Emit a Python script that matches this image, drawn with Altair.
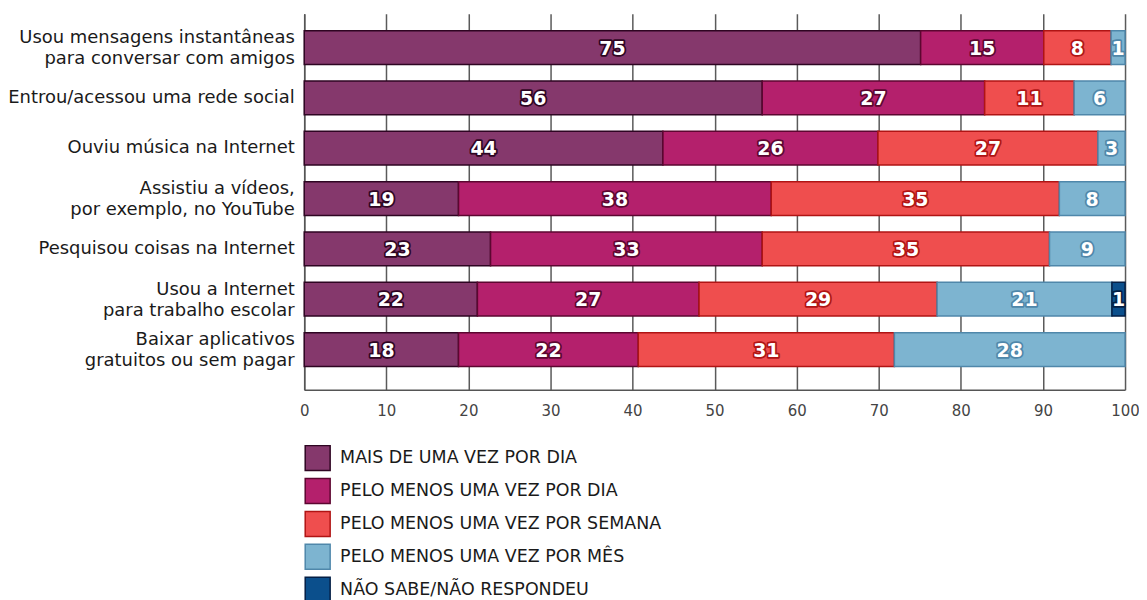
import altair as alt
import pandas as pd

# ---- data ----
items = [
    "Usou mensagens instantâneas|para conversar com amigos",
    "Entrou/acessou uma rede social",
    "Ouviu música na Internet",
    "Assistiu a vídeos,|por exemplo, no YouTube",
    "Pesquisou coisas na Internet",
    "Usou a Internet|para trabalho escolar",
    "Baixar aplicativos|gratuitos ou sem pagar",
]
categories = [
    "MAIS DE UMA VEZ POR DIA",
    "PELO MENOS UMA VEZ POR DIA",
    "PELO MENOS UMA VEZ POR SEMANA",
    "PELO MENOS UMA VEZ POR MÊS",
    "NÃO SABE/NÃO RESPONDEU",
]

# bar lengths (as drawn)
mais_dia = [75.1, 55.8, 43.7, 18.8, 22.7, 21.1, 18.8]
pelo_dia = [15.0, 27.1, 26.2, 38.1, 33.1, 27.0, 21.9]
semana = [8.2, 10.9, 26.8, 35.1, 35.0, 29.0, 31.2]
mes = [1.7, 6.2, 3.3, 8.0, 9.2, 21.3, 28.1]
nao_sabe = [0, 0, 0, 0, 0, 1.6, 0]

# printed labels
lab_mais_dia = [75, 56, 44, 19, 23, 22, 18]
lab_pelo_dia = [15, 27, 26, 38, 33, 27, 22]
lab_semana = [8, 11, 27, 35, 35, 29, 31]
lab_mes = [1, 6, 3, 8, 9, 21, 28]
lab_nao_sabe = [0, 0, 0, 0, 0, 1, 0]

colors = ["#85386C", "#B4206C", "#EF4E4E", "#7DB4D0", "#0B4F8C"]
darks = ["#2E0522", "#5C0630", "#B01414", "#4F87AA", "#041F45"]

series = [mais_dia, pelo_dia, semana, mes, nao_sabe]
labels = [lab_mais_dia, lab_pelo_dia, lab_semana, lab_mes, lab_nao_sabe]

rows = []
for ci, cat in enumerate(categories):
    for ii, item in enumerate(items):
        v = series[ci][ii]
        if v > 0:
            rows.append({"item": item, "cat": cat, "order": ci,
                         "value": v, "label": str(labels[ci][ii])})
df = pd.DataFrame(rows)

base = (
    alt.Chart(df)
    .transform_stack(stack="value", groupby=["item"], as_=["x0", "x1"],
                     sort=[alt.SortField("order", order="ascending")])
    .transform_calculate(mid="(datum.x0 + datum.x1) / 2")
)

y_enc = alt.Y(
    "item:N", sort=items, title=None,
    scale=alt.Scale(paddingInner=0.33, paddingOuter=0.4, align=0.42),
    axis=alt.Axis(labelExpr="split(datum.label, '|')", labelFont="DejaVu Sans",
                  labelFontSize=18, labelColor="#1a1a1a", labelPadding=10,
                  labelLineHeight=21, labelLimit=400, ticks=False, grid=False,
                  labelOffset={"condition": {"test": "indexof(datum.value, '|') >= 0",
                                             "value": -9.5}, "value": 0},
                  domain=True, domainColor="#555555", domainWidth=1.5),
)

x_scale = alt.Scale(domain=[0, 100], nice=False)

color_enc = alt.Color(
    "cat:N", scale=alt.Scale(domain=categories, range=colors),
    legend=alt.Legend(
        title=None, orient="none", legendX=0, legendY=432, direction="vertical",
        symbolType="square", symbolSize=625, symbolStrokeWidth=1.5,
        symbolStrokeColor="#3a1228", symbolOpacity=1,
        labelFont="DejaVu Sans", labelFontSize=17.5,
        labelColor="#1a1a1a", labelOffset=9, rowPadding=2, padding=0,
        labelLimit=600,
    ),
)
stroke_enc = alt.Stroke("cat:N", scale=alt.Scale(domain=categories, range=darks), legend=None)

bars = base.mark_bar(strokeWidth=1.5, opacity=1).encode(
    y=y_enc,
    x=alt.X("x0:Q", scale=x_scale, title=None,
            axis=alt.Axis(values=list(range(0, 101, 10)), grid=True,
                          gridColor="#5a5a5a", gridWidth=1.5, ticks=False,
                          domainColor="#555555", domainWidth=1.5,
                          labelFont="DejaVu Sans", labelFontSize=15,
                          labelColor="#444444", labelPadding=14,
                          labelFlush=False, labelOverlap=False)),
    x2="x1:Q",
    color=color_enc,
    stroke=stroke_enc,
)

outline = base.mark_text(font="DejaVu Sans", fontSize=19, fontWeight="bold",
                         fill="white", strokeWidth=3.5, strokeJoin="round",
                         dy=1).encode(
    y=alt.Y("item:N", sort=items),
    x=alt.X("mid:Q", scale=x_scale),
    text="label:N",
    stroke=stroke_enc,
)

labels_txt = base.mark_text(font="DejaVu Sans", fontSize=19, fontWeight="bold",
                            fill="white", dy=1).encode(
    y=alt.Y("item:N", sort=items),
    x=alt.X("mid:Q", scale=x_scale),
    text="label:N",
)

chart = (
    alt.layer(bars, outline, labels_txt)
    .properties(width=823, height=377,
                autosize=alt.AutoSizeParams(type="none"),
                padding={"left": 297, "top": 5, "right": 14, "bottom": 210})
    .configure_view(stroke=None)
)

chart.save("out.html", embed_options={"renderer": "svg", "actions": False})
